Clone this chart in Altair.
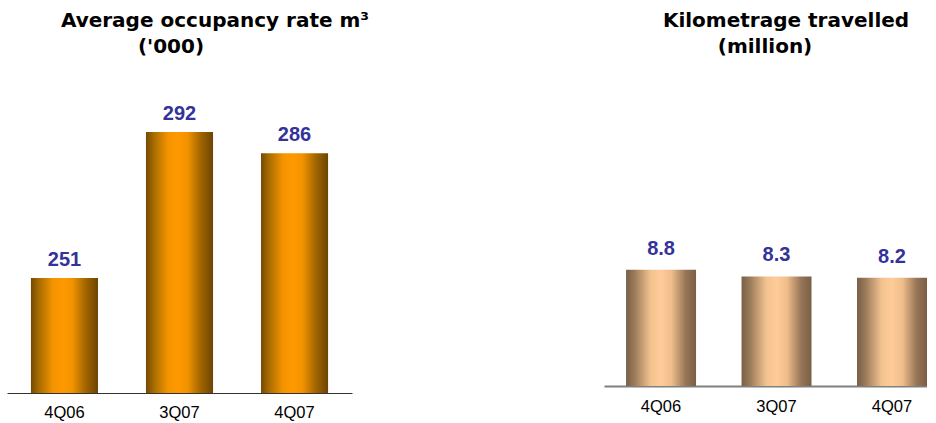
import altair as alt
import pandas as pd

# Quarterly figures
quarters = ["4Q06", "3Q07", "4Q07"]
occupancy = [251, 292, 286]          # average occupancy rate, m³ ('000)
kilometrage = [8.8, 8.3, 8.2]        # kilometrage travelled (million)

occ_title = ["Average occupancy rate m³", "('000)"]
km_title = ["Kilometrage travelled", "(million)"]

occ_df = pd.DataFrame({"quarter": quarters, "value": occupancy})
km_df = pd.DataFrame({"quarter": quarters, "value": kilometrage})

TITLE_FONT = "DejaVu Sans"
BODY_FONT = "Liberation Sans"
LABEL_BLUE = "#333399"

# Cylinder-like horizontal shading for the bars
orange_fill = alt.Gradient(
    gradient="linear", x1=0, x2=1, y1=0, y2=0,
    stops=[
        alt.GradientStop(offset=0.0, color="#744a00"),
        alt.GradientStop(offset=0.12, color="#a86c00"),
        alt.GradientStop(offset=0.33, color="#f59400"),
        alt.GradientStop(offset=0.48, color="#ff9900"),
        alt.GradientStop(offset=0.62, color="#f29200"),
        alt.GradientStop(offset=0.82, color="#a06400"),
        alt.GradientStop(offset=1.0, color="#6c4400"),
    ],
)
tan_fill = alt.Gradient(
    gradient="linear", x1=0, x2=1, y1=0, y2=0,
    stops=[
        alt.GradientStop(offset=0.0, color="#7a5f46"),
        alt.GradientStop(offset=0.12, color="#9a7a5a"),
        alt.GradientStop(offset=0.35, color="#f2c28f"),
        alt.GradientStop(offset=0.5, color="#ffcc99"),
        alt.GradientStop(offset=0.65, color="#eebd8b"),
        alt.GradientStop(offset=0.85, color="#977657"),
        alt.GradientStop(offset=1.0, color="#7a5f46"),
    ],
)


def title_line(text, x, y):
    return alt.Chart().mark_text(
        text=text, font=TITLE_FONT, fontSize=20, fontWeight="bold",
        color="black", align="center", baseline="middle",
    ).encode(x=alt.value(x), y=alt.value(y))


# Left panel: average occupancy
occ_x = alt.X(
    "quarter:N", sort=quarters, title=None,
    scale=alt.Scale(paddingInner=0.417, paddingOuter=0.208),
    axis=alt.Axis(labelAngle=0, ticks=False, domainColor="#333333", domainWidth=1,
                  labelFont=BODY_FONT, labelFontSize=16.5, labelColor="black",
                  labelPadding=11, grid=False),
)
occ_y = alt.Y("value:Q", axis=None,
              scale=alt.Scale(domain=[218.7, 306.3], nice=False, zero=False, clamp=True))

occ_bars = alt.Chart(occ_df).mark_bar(color=orange_fill).encode(x=occ_x, y=occ_y)
occ_labels = alt.Chart(occ_df).mark_text(
    dy=-18, baseline="middle", font=BODY_FONT, fontSize=20, fontWeight="bold",
    color=LABEL_BLUE,
).encode(x=occ_x, y=occ_y, text=alt.Text("value:Q", format="d"))

left = alt.layer(
    occ_bars, occ_labels,
    title_line(occ_title[0], 208, -60),
    title_line(occ_title[1], 164, -34),
).properties(width=345, height=312)

# Right panel: kilometrage
km_x = alt.X(
    "quarter:N", sort=quarters, title=None,
    scale=alt.Scale(paddingInner=0.394, paddingOuter=0.0955, align=1),
    axis=alt.Axis(labelAngle=0, ticks=False, domainColor="#808080", domainWidth=2,
                  labelFont=BODY_FONT, labelFontSize=16.5, labelColor="black",
                  labelPadding=12, grid=False),
)
km_y = alt.Y("value:Q", axis=None,
             scale=alt.Scale(domain=[0, 23.1], nice=False, zero=True))

km_bars = alt.Chart(km_df).mark_bar(color=tan_fill).encode(x=km_x, y=km_y)
km_labels = alt.Chart(km_df).mark_text(
    dy=-21, baseline="middle", font=BODY_FONT, fontSize=20, fontWeight="bold",
    color=LABEL_BLUE,
).encode(x=km_x, y=km_y, text=alt.Text("value:Q", format=".1f"))

right = alt.layer(
    km_bars, km_labels,
    title_line(km_title[0], 182, -60),
    title_line(km_title[1], 161, -34),
).properties(width=323, height=305)

chart = alt.hconcat(left, right, spacing=252, bounds="flush").properties(
    padding={"left": 7, "top": 11, "right": 0, "bottom": 0},
    background="white",
).configure_view(stroke=None)

chart.save("out.html", embed_options={"renderer": "svg", "actions": False})
